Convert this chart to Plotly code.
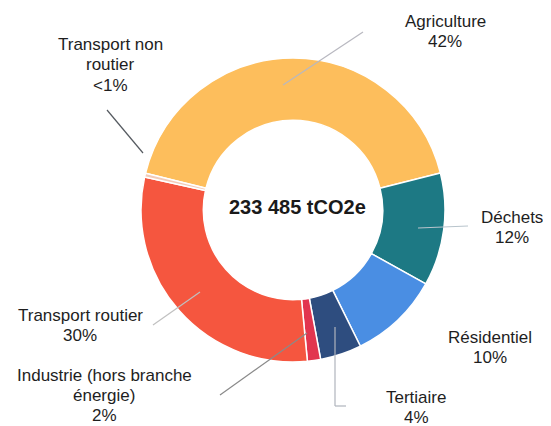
import plotly.graph_objects as go

OFF = 8  # default page margin of the html body
W, H = 551 - OFF, 426 - OFF

categories = ["Agriculture", "Déchets", "Résidentiel", "Tertiaire",
              "Industrie (hors branche énergie)", "Transport routier",
              "Transport non routier"]
values = [42.2, 12.0, 9.6, 4.4, 1.4, 30.0, 0.4]
pct_labels = ["42%", "12%", "10%", "4%", "2%", "30%", "<1%"]
colors = ["#FDBE5C", "#1D7984", "#4A8EE3", "#2E4D7F", "#E2354F", "#F5563F", "#F3CBB8"]
total_label = "233 485 tCO2e"

# label text lines and their centre positions (page pixels)
label_lines = {
    "Agriculture": (["Agriculture", "42%"], 445, 22),
    "Déchets": (["Déchets", "12%"], 512, 217),
    "Résidentiel": (["Résidentiel", "10%"], 490, 337),
    "Tertiaire": (["Tertiaire", "4%"], 416, 397),
    "Industrie (hors branche énergie)": (["Industrie (hors branche", "énergie)", "2%"], 104, 375),
    "Transport routier": (["Transport routier", "30%"], 80, 315),
    "Transport non routier": (["Transport non", "routier", "<1%"], 110, 45),
}
line_gap = 20.0

def px(x):
    return (x - OFF) / W

def py(y):
    return 1 - (y - OFF) / H

fig = go.Figure(go.Pie(
    labels=categories, values=values, sort=False, direction="clockwise",
    rotation=-76.0, hole=0.59, textinfo="none", hoverinfo="label+percent",
    marker=dict(colors=colors, line=dict(color="white", width=1.5)),
    domain=dict(x=[px(141), px(445)], y=[py(362), py(58)]),
    showlegend=False,
))

annotations = []
for cat in categories:
    lines, cx, cy = label_lines[cat]
    for i, t in enumerate(lines):
        annotations.append(dict(
            x=px(cx), y=py(cy + i * line_gap), xref="paper", yref="paper",
            text=t, showarrow=False, xanchor="center", yanchor="middle",
            font=dict(family="Liberation Sans, Arial", size=17, color="#1e1e1e"),
        ))
annotations.append(dict(
    x=px(297), y=py(207), xref="paper", yref="paper", text="<b>" + total_label + "</b>",
    showarrow=False, xanchor="center", yanchor="middle",
    font=dict(family="Liberation Sans, Arial", size=20, color="#1a1a1a"),
))

leaders = [
    ([(283, 85), (363, 32)], "#b8b8c0"),
    ([(107, 110), (143, 153)], "#555a60"),
    ([(418, 228), (468, 226)], "#b8c4cc"),
    ([(200, 292), (153, 325)], "#c0c0c0"),
    ([(307, 333), (220, 395)], "#8a8a8a"),
    ([(335, 327), (335, 406), (346, 406)], "#b0b4bc"),
]
shapes = []
for pts, col in leaders:
    for (x0, y0), (x1, y1) in zip(pts[:-1], pts[1:]):
        shapes.append(dict(type="line", xref="paper", yref="paper",
                           x0=px(x0), y0=py(y0), x1=px(x1), y1=py(y1),
                           line=dict(color=col, width=1.2)))

fig.update_layout(
    width=W, height=H, margin=dict(l=0, r=0, t=0, b=0),
    paper_bgcolor="white", plot_bgcolor="white",
    annotations=annotations, shapes=shapes,
)
fig.write_html("out.html")
